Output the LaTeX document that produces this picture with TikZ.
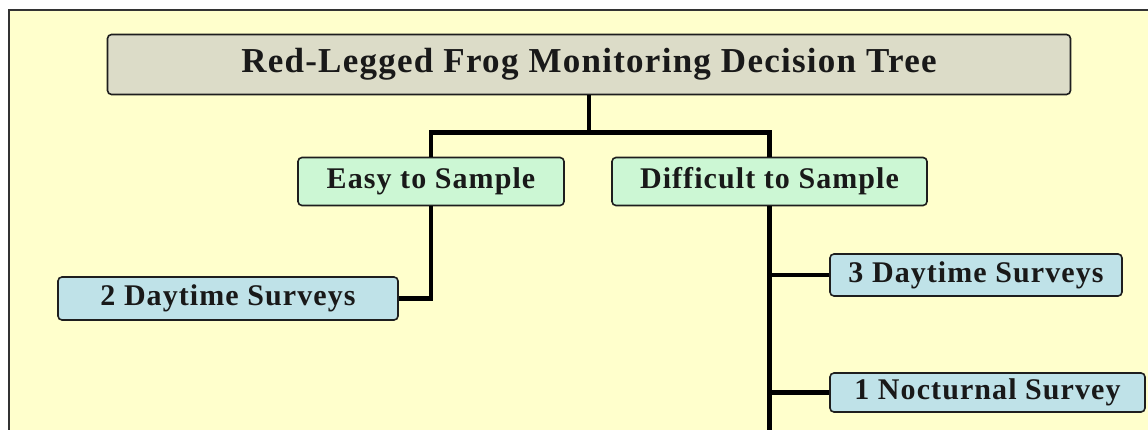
\documentclass[tikz,border=0pt]{standalone}
\usepackage{fontspec}
\setmainfont{Liberation Serif}[LetterSpace=3.6]
\usetikzlibrary{positioning}
\definecolor{paper}{HTML}{FFFFCC}
\definecolor{headfill}{HTML}{DCDCC8}
\definecolor{sitefill}{HTML}{CCF7D4}
\definecolor{surveyfill}{HTML}{BFE2E8}
\definecolor{edge}{HTML}{1E1E1E}

\begin{document}
\begin{tikzpicture}[
  x=1pt, y=-1pt,
  font=\bfseries\fontsize{30}{34}\selectfont,
  box/.style={
    draw=edge,
    line width=1.6pt,
    rounded corners=4pt,
    align=center,
    inner sep=0pt,
    text=black!90,
  },
  head/.style={box, fill=headfill, minimum width=963pt, minimum height=60pt,
    font=\bfseries\fontsize{35}{40}\selectfont},
  site/.style={box, fill=sitefill, minimum height=48pt},
  survey/.style={box, fill=surveyfill},
  link/.style={draw=black, line width=4.5pt},
]
\useasboundingbox (0,0) rectangle (1148,430);

% ---- page and frame -------------------------------------------------------
\fill[white] (0,0) rectangle (1148,430);
\fill[paper] (9,10) rectangle (1148,430);
\draw[black!80, line width=2pt] (9,430) -- (9,10) -- (1148,10);

% ---- title and the two kinds of site --------------------------------------
\node[head] (title) at (589,64.5) {Red-Legged Frog Monitoring Decision Tree};
\node[site, minimum width=266pt] (easy) at (431,181.5) {Easy to Sample};
\node[site, minimum width=315pt] (hard) at (769.5,181.5) {Difficult to Sample};

\draw[link] (title.south) -- ++(0,37) coordinate (fork);
\draw[link] (easy.north) |- (fork) -| (hard.north);

% ---- surveys ----------------------------------------------------------------
\node[survey, minimum width=340pt, minimum height=43pt] (easyday) at (228,298.5)
  {2 Daytime Surveys};
\node[survey, minimum width=292pt, minimum height=42pt] (hardday) at (976,275)
  {3 Daytime Surveys};
\node[survey, minimum width=315pt, minimum height=39pt] (night) at (987.5,392.5)
  {1 Nocturnal Survey};

\draw[link] (easy.south) |- (easyday.east);

% the trunk runs on past the lower edge
\coordinate (cut) at (hard.south |- 0,432);
\draw[link] (hard.south) -- (cut);
\draw[link] (hard.south |- hardday.west) -- (hardday.west);
\draw[link] (hard.south |- night.west) -- (night.west);

\end{tikzpicture}
\end{document}
